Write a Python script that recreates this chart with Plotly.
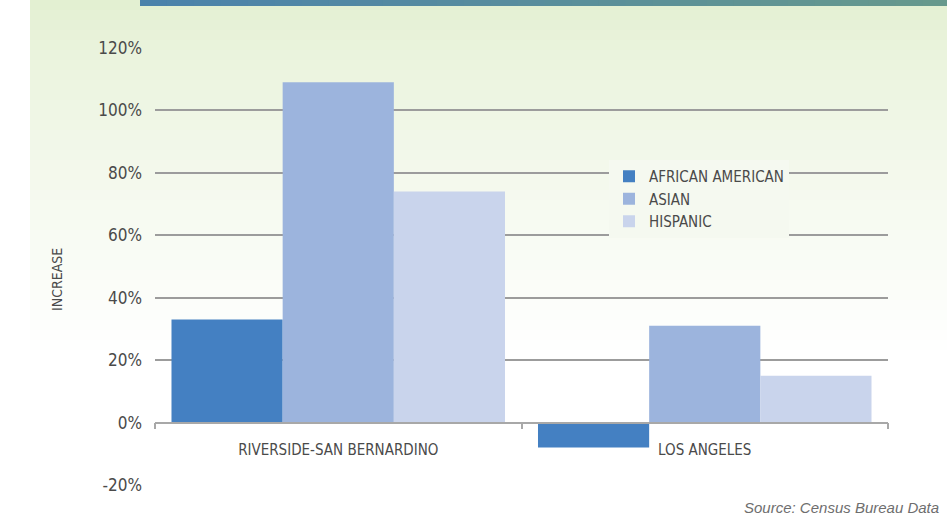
import plotly.graph_objects as go

# data
regions = ['RIVERSIDE-SAN BERNARDINO', 'LOS ANGELES']
african_american = [33, -8]
asian = [109, 31]
hispanic = [74, 15]
ytick_vals = [-20, 0, 20, 40, 60, 80, 100, 120]
ytick_text = ['-20%', '0%', '20%', '40%', '60%', '80%', '100%', '120%']

W, H = 947, 517
ML, MR, MT, MB = 155, 59, 48, 32
PW, PH = W - ML - MR, H - MT - MB

FONT = 'Liberation Sans Narrow, DejaVu Sans Condensed, Roboto, sans-serif'
TXT = '#4a4a4a'


def px(x):
    return (x - ML) / PW


def py(y):
    return (H - MB - y) / PH


fig = go.Figure()
for name, vals, col in [('AFRICAN AMERICAN', african_american, '#4480c2'),
                        ('ASIAN', asian, '#9cb4dd'),
                        ('HISPANIC', hispanic, '#c9d4ec')]:
    fig.add_trace(go.Bar(x=regions, y=vals, name=name, marker_color=col,
                         marker_line_width=0, legendgroup=name))

# background: green panel fading to white, teal band at the top
shapes = []
top = (226, 239, 208)
n = 36
for i in range(n):
    t = ((i + 0.5) / n) ** 0.7
    c = tuple(round(top[k] + (255 - top[k]) * t) for k in range(3))
    shapes.append(dict(type='rect', xref='paper', yref='paper', layer='below',
                       x0=px(30), x1=px(W + 2), y0=py(i * 10), y1=py(i * 10 + 10.5),
                       fillcolor='rgb(%d,%d,%d)' % c, line_width=0))
left, right = (74, 130, 170), (102, 153, 140)
m = 30
for i in range(m):
    t = i / (m - 1)
    c = tuple(round(left[k] + (right[k] - left[k]) * t) for k in range(3))
    x0 = 140 + (W + 2 - 140) * i / m
    x1 = 140 + (W + 2 - 140) * (i + 1) / m + 1
    shapes.append(dict(type='rect', xref='paper', yref='paper', layer='below',
                       x0=px(x0), x1=px(x1), y0=py(-2), y1=py(6),
                       fillcolor='rgb(%d,%d,%d)' % c, line_width=0))

fig.update_layout(
    width=W, height=H,
    margin=dict(l=ML, r=MR, t=MT, b=MB, pad=0),
    paper_bgcolor='white',
    plot_bgcolor='rgba(0,0,0,0)',
    barmode='group',
    bargap=0.09,
    bargroupgap=0,
    font=dict(family=FONT, color=TXT),
    shapes=shapes,
    xaxis=dict(
        anchor='free', position=20 / 140,
        showline=True, linecolor='#a8a8a8', linewidth=1.5,
        ticks='outside', tickson='boundaries', ticklen=6, tickcolor='#a8a8a8',
        tickwidth=1.5, ticklabelstandoff=14,
        tickfont=dict(size=15, color=TXT, family=FONT),
        showgrid=False,
    ),
    yaxis=dict(
        range=[-20, 120],
        tickvals=ytick_vals,
        ticktext=ytick_text,
        showgrid=True, gridcolor='#9c9c9c', gridwidth=1.5,
        zeroline=False,
        ticks='', ticklabelstandoff=12,
        tickfont=dict(size=17, color=TXT, family=FONT),
    ),
    legend=dict(
        x=px(609), y=py(160), xanchor='left', yanchor='top',
        bgcolor='#f5f9f0', font=dict(size=15, color=TXT, family=FONT),
        tracegroupgap=8, traceorder='normal',
    ),
    annotations=[
        dict(text='INCREASE', xref='paper', yref='paper', x=px(47), y=py(280),
             textangle=-90, showarrow=False, font=dict(size=14, color=TXT)),
        dict(text='<i>Source: Census Bureau Data</i>', xref='paper', yref='paper',
             x=px(742), y=py(507), xanchor='left', yanchor='middle', showarrow=False,
             font=dict(size=15, color='#6e6e6e', family='Liberation Sans, sans-serif')),
    ],
)

fig.write_html('out.html', config={'displayModeBar': False},
               post_script="document.body.style.margin='0';"
                           "document.body.style.overflow='hidden';")
